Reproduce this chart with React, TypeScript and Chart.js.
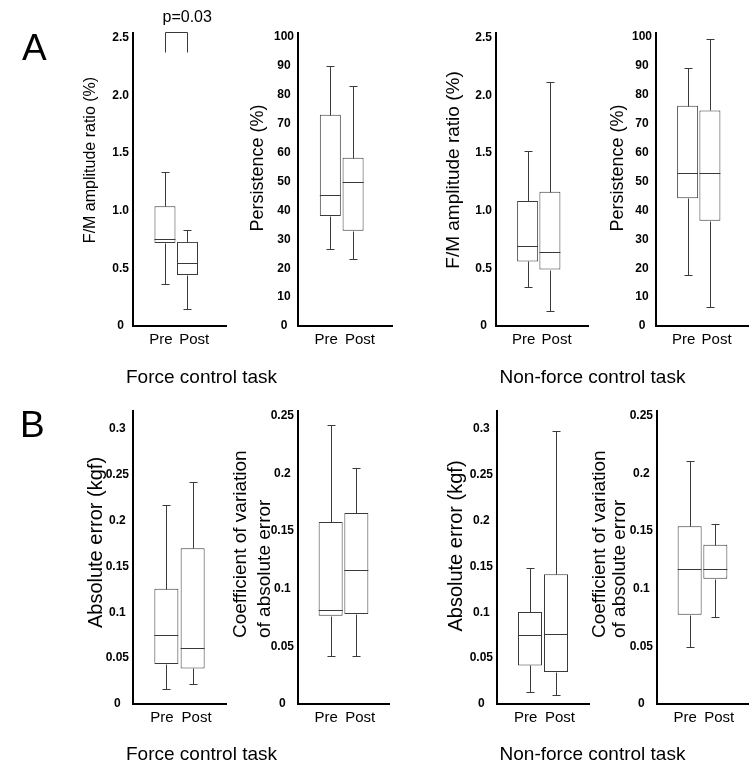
import { useEffect, useRef } from 'react';
import { Chart, registerables } from 'chart.js';

Chart.register(...registerables);

const FONT = '"Liberation Sans", Arial, Helvetica, sans-serif';

const groups = ['Pre', 'Post'];

// Five-number summaries per group: [min, Q1, median, Q3, max]
const fmForcePre = [0.365, 0.72, 0.755, 1.04, 1.337];
const fmForcePost = [0.148, 0.443, 0.547, 0.73, 0.833];
const persForcePre = [26.6, 38.1, 45.4, 73.1, 90];
const persForcePost = [23.1, 33, 49.7, 58.2, 83.1];
const fmNonForcePre = [0.336, 0.56, 0.69, 1.085, 1.52];
const fmNonForcePost = [0.13, 0.49, 0.64, 1.166, 2.12];
const persNonForcePre = [17.6, 44.2, 53, 76.2, 89.4];
const persNonForcePost = [6.7, 36.4, 53, 74.6, 99.4];

const absForcePre = [0.016, 0.0435, 0.0758, 0.1258, 0.217];
const absForcePost = [0.0217, 0.0388, 0.0616, 0.17, 0.2424];
const cvForcePre = [0.0419, 0.0766, 0.0813, 0.1577, 0.242];
const cvForcePost = [0.0414, 0.078, 0.116, 0.1655, 0.2046];
const absNonForcePre = [0.0127, 0.042, 0.075, 0.1003, 0.148];
const absNonForcePost = [0.0098, 0.035, 0.0768, 0.1416, 0.298];
const cvNonForcePre = [0.0492, 0.0773, 0.117, 0.154, 0.211];
const cvNonForcePost = [0.0753, 0.1085, 0.117, 0.138, 0.156];

// Axis ticks
const fmTicks = [0, 0.5, 1, 1.5, 2, 2.5];
const fmTickLabels = ['0', '0.5', '1.0', '1.5', '2.0', '2.5'];
const persTicks = [0, 10, 20, 30, 40, 50, 60, 70, 80, 90, 100];
const persTickLabels = ['0', '10', '20', '30', '40', '50', '60', '70', '80', '90', '100'];
const absTicks = [0, 0.05, 0.1, 0.15, 0.2, 0.25, 0.3];
const absTickLabels = ['0', '0.05', '0.1', '0.15', '0.2', '0.25', '0.3'];
const cvTicks = [0, 0.05, 0.1, 0.15, 0.2, 0.25];
const cvTickLabels = ['0', '0.05', '0.1', '0.15', '0.2', '0.25'];

const taskLabels = ['Force control task', 'Non-force control task'];
const significance = 'p=0.03';

const W = 750;
const H = 776;
const Y_AXIS_W = 50;
const X_AXIS_H = 30;

type PanelCfg = {
  area: [number, number, number, number]; // left, top, right, bottom
  yMax: number;
  ticks: number[];
  tickLabels: string[];
  pre: number[];
  post: number[];
  title: string[];
  titleSize: number;
  titleX: number[];
  titleY: number;
  titleAlign: CanvasTextAlign;
  xRange: [number, number];
  labelAt: number[];
  boxWidth: number;
  bracket?: { top: number; leg: number; text: string };
  figureText?: boolean;
};

// Group boxes sit at x = 1 and x = 2; the group names are spread a little wider
const rowA = { xRange: [-0.42, 3.71] as [number, number], labelAt: [0.82, 2.3], boxWidth: 21 };
const rowB = { xRange: [-0.27, 3.27] as [number, number], labelAt: [0.83, 2.15], boxWidth: 24 };

const panels: PanelCfg[] = [
  {
    area: [133, 33, 226, 326], yMax: 2.543, ticks: fmTicks, tickLabels: fmTickLabels,
    pre: fmForcePre, post: fmForcePost, title: ['F/M amplitude ratio (%)'], titleSize: 16,
    titleX: [95], titleY: 160, titleAlign: 'center', ...rowA,
    bracket: { top: 2.552, leg: 2.378, text: significance }, figureText: true,
  },
  {
    area: [298, 33, 392, 326], yMax: 101.4, ticks: persTicks, tickLabels: persTickLabels,
    pre: persForcePre, post: persForcePost, title: ['Persistence (%)'], titleSize: 18,
    titleX: [263], titleY: 168, titleAlign: 'center', ...rowA,
  },
  {
    area: [496, 33, 588, 326], yMax: 2.543, ticks: fmTicks, tickLabels: fmTickLabels,
    pre: fmNonForcePre, post: fmNonForcePost, title: ['F/M amplitude ratio (%)'], titleSize: 19,
    titleX: [458.5], titleY: 170, titleAlign: 'center', ...rowA,
  },
  {
    area: [656, 33, 748, 326], yMax: 101.4, ticks: persTicks, tickLabels: persTickLabels,
    pre: persNonForcePre, post: persNonForcePost, title: ['Persistence (%)'], titleSize: 18,
    titleX: [623], titleY: 168, titleAlign: 'center', ...rowA,
  },
  {
    area: [133, 411, 226, 704], yMax: 0.3196, ticks: absTicks, tickLabels: absTickLabels,
    pre: absForcePre, post: absForcePost, title: ['Absolute error (kgf)'], titleSize: 20,
    titleX: [101.5], titleY: 542.5, titleAlign: 'center', ...rowB,
  },
  {
    area: [298, 411, 389, 704], yMax: 0.254, ticks: cvTicks, tickLabels: cvTickLabels,
    pre: cvForcePre, post: cvForcePost, title: ['Coefficient of variation', 'of absolute error'],
    titleSize: 19, titleX: [246, 270], titleY: 638, titleAlign: 'left', ...rowB,
  },
  {
    area: [497, 411, 589, 704], yMax: 0.3196, ticks: absTicks, tickLabels: absTickLabels,
    pre: absNonForcePre, post: absNonForcePost, title: ['Absolute error (kgf)'], titleSize: 20,
    titleX: [461.5], titleY: 546, titleAlign: 'center', ...rowB,
  },
  {
    area: [657, 411, 748, 704], yMax: 0.254, ticks: cvTicks, tickLabels: cvTickLabels,
    pre: cvNonForcePre, post: cvNonForcePost, title: ['Coefficient of variation', 'of absolute error'],
    titleSize: 19, titleX: [605, 625], titleY: 638, titleAlign: 'left', ...rowB,
  },
];

// Whiskers, caps, medians and the significance bracket, drawn through the chart scales
const boxPlotPlugin = {
  id: 'boxWhiskers',
  afterDatasetsDraw(chart: any, _args: any, opts: any) {
    const { ctx } = chart;
    const xs = chart.scales.x;
    const ys = chart.scales.y;
    const ds = chart.data.datasets[0];
    const meta = chart.getDatasetMeta(0);
    const py = (v: number) => Math.round(ys.getPixelForValue(v)) + 0.5;
    const cap = 4;
    ctx.save();
    ctx.strokeStyle = '#3a3a3a';
    ctx.lineWidth = 1;
    ds.stats.forEach((s: number[], i: number) => {
      const [mn, q1, med, q3, mx] = s;
      const x = Math.round(xs.getPixelForValue(i + 1)) + 0.5;
      const bar = meta.data[i];
      const half = bar.width / 2;
      ctx.beginPath();
      ctx.moveTo(x, py(q3));
      ctx.lineTo(x, py(mx));
      ctx.moveTo(x - cap, py(mx));
      ctx.lineTo(x + cap, py(mx));
      ctx.moveTo(x, py(q1));
      ctx.lineTo(x, py(mn));
      ctx.moveTo(x - cap, py(mn));
      ctx.lineTo(x + cap, py(mn));
      ctx.moveTo(bar.x - half, py(med));
      ctx.lineTo(bar.x + half, py(med));
      ctx.stroke();
    });
    const br = opts.bracket;
    if (br) {
      const x1 = Math.round(xs.getPixelForValue(1)) + 0.5;
      const x2 = Math.round(xs.getPixelForValue(2)) + 0.5;
      const yt = py(br.top);
      const yl = py(br.leg);
      ctx.beginPath();
      ctx.moveTo(x1, yl);
      ctx.lineTo(x1, yt);
      ctx.lineTo(x2, yt);
      ctx.lineTo(x2, yl);
      ctx.stroke();
      ctx.fillStyle = '#000';
      ctx.font = `16px ${FONT}`;
      ctx.textAlign = 'left';
      ctx.textBaseline = 'alphabetic';
      ctx.fillText(br.text, x1 - 3, yt - 11);
    }
    ctx.restore();
  },
};

// Rotated y-axis titles plus the figure lettering and task captions
const textPlugin = {
  id: 'panelText',
  afterDraw(chart: any, _args: any, opts: any) {
    const { ctx } = chart;
    ctx.save();
    ctx.fillStyle = '#000';
    ctx.textBaseline = 'alphabetic';
    ctx.font = `${opts.titleSize}px ${FONT}`;
    opts.title.forEach((line: string, i: number) => {
      ctx.save();
      ctx.translate(opts.titleX[i], opts.titleY);
      ctx.rotate(-Math.PI / 2);
      ctx.textAlign = opts.titleAlign;
      ctx.fillText(line, 0, 0);
      ctx.restore();
    });
    if (opts.figureText) {
      ctx.textAlign = 'left';
      ctx.font = `37px ${FONT}`;
      ctx.fillText('A', 22, 60);
      ctx.fillText('B', 20, 437);
      ctx.textAlign = 'center';
      ctx.font = `19px ${FONT}`;
      ctx.fillText(taskLabels[0], 201.5, 383);
      ctx.fillText(taskLabels[1], 592.5, 383);
      ctx.fillText(taskLabels[0], 201.5, 760);
      ctx.fillText(taskLabels[1], 592.5, 760);
    }
    ctx.restore();
  },
};

function Panel({ cfg }: { cfg: PanelCfg }) {
  const ref = useRef<HTMLCanvasElement | null>(null);
  useEffect(() => {
    if (!ref.current) return;
    const [left, top, right, bottom] = cfg.area;
    const chart = new Chart(ref.current, {
      type: 'bar',
      data: {
        datasets: [
          {
            data: [
              { x: 1, y: [cfg.pre[1], cfg.pre[3]] },
              { x: 2, y: [cfg.post[1], cfg.post[3]] },
            ],
            stats: [cfg.pre, cfg.post],
            backgroundColor: '#ffffff',
            borderColor: '#3a3a3a',
            borderWidth: 1,
            borderSkipped: false,
            barThickness: cfg.boxWidth,
            inflateAmount: 0,
          } as any,
        ],
      },
      options: {
        responsive: false,
        animation: false,
        events: [],
        layout: {
          padding: {
            left: left - Y_AXIS_W,
            right: W - right,
            top,
            bottom: H - bottom - X_AXIS_H,
          },
        },
        plugins: {
          legend: { display: false },
          tooltip: { enabled: false },
          boxWhiskers: { bracket: cfg.bracket },
          panelText: {
            title: cfg.title,
            titleSize: cfg.titleSize,
            titleX: cfg.titleX,
            titleY: cfg.titleY,
            titleAlign: cfg.titleAlign,
            figureText: !!cfg.figureText,
          },
        } as any,
        scales: {
          x: {
            type: 'linear',
            min: cfg.xRange[0],
            max: cfg.xRange[1],
            offset: false,
            afterFit: (s: any) => {
              s.height = X_AXIS_H;
            },
            afterBuildTicks: (s: any) => {
              s.ticks = cfg.labelAt.map((v) => ({ value: v }));
            },
            ticks: {
              callback: (_v: any, i: number) => groups[i],
              padding: 5,
              autoSkip: false,
              maxRotation: 0,
              color: '#000',
              font: { family: FONT, size: 15 },
            },
            grid: { display: false, drawTicks: false },
            border: { display: true, color: '#000', width: 2 },
          },
          y: {
            type: 'linear',
            min: 0,
            max: cfg.yMax,
            afterFit: (s: any) => {
              s.width = Y_AXIS_W;
            },
            afterBuildTicks: (s: any) => {
              s.ticks = cfg.ticks.map((v) => ({ value: v }));
            },
            ticks: {
              callback: (_v: any, i: number) => cfg.tickLabels[i],
              crossAlign: 'center',
              padding: 4,
              autoSkip: false,
              color: '#000',
              font: { family: FONT, size: 12, weight: 'bold' },
            },
            grid: { display: false, drawTicks: false },
            border: { display: true, color: '#000', width: 2 },
          },
        } as any,
      },
      plugins: [boxPlotPlugin, textPlugin],
    });
    return () => chart.destroy();
  }, [cfg]);
  return (
    <canvas
      ref={ref}
      width={W}
      height={H}
      style={{ position: 'absolute', left: 0, top: 0, width: W, height: H }}
    />
  );
}

export default function App() {
  return (
    <div
      style={{
        position: 'absolute',
        left: 0,
        top: 0,
        width: W,
        height: H,
        background: '#ffffff',
        overflow: 'hidden',
      }}
    >
      {panels.map((p, i) => (
        <Panel key={i} cfg={p} />
      ))}
    </div>
  );
}
